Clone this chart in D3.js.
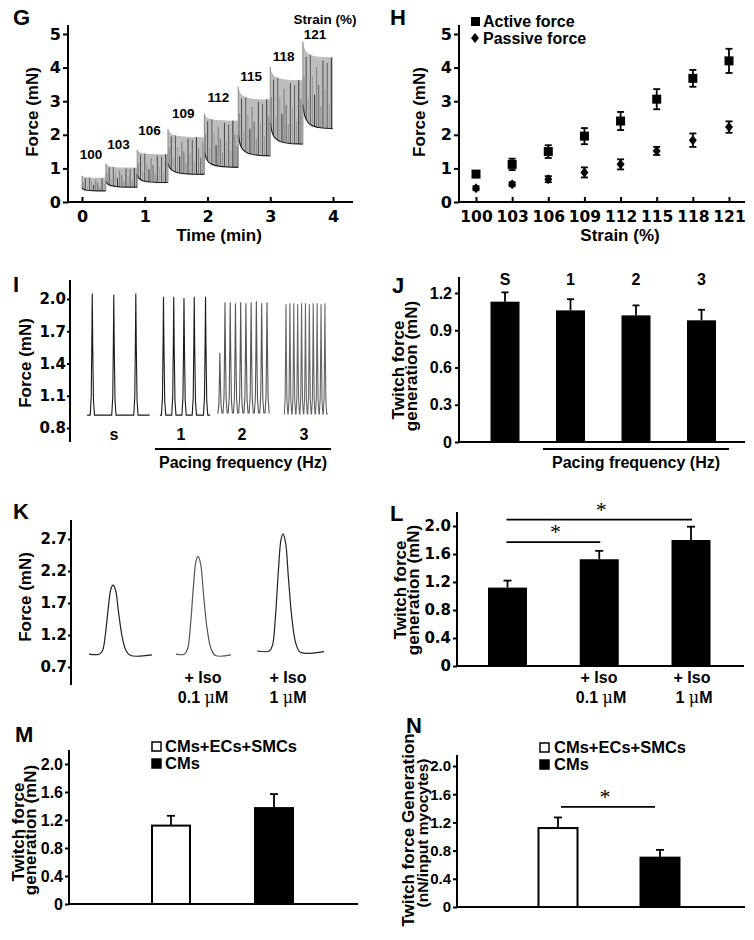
<!DOCTYPE html>
<html>
<head>
<meta charset="utf-8">
<script src="https://cdn.jsdelivr.net/npm/d3@7"></script>
<style>
  body { margin: 0; background: #fff; }
  text { font-family: "Liberation Sans", Arial, sans-serif; font-weight: bold; fill: #000; }
</style>
</head>
<body>
<svg width="754" height="940"></svg>
<script>
// ---- panel G : force trace at increasing strain ----
const strainCats = ["100", "103", "106", "109", "112", "115", "118", "121"];
const gSegStart = [0, 0.38, 0.88, 1.37, 1.95, 2.49, 3.0, 3.52];
const gSegEnd = [0.38, 0.88, 1.37, 1.95, 2.49, 3.0, 3.52, 4.0];
const gPeakStart = [0.78, 1.15, 1.55, 2.17, 2.63, 3.43, 4.02, 4.78];
const gPeakPlateau = [0.72, 1.02, 1.42, 1.93, 2.42, 3.05, 3.62, 4.3];
const gPassiveStart = [0.42, 0.62, 0.8, 1.15, 1.5, 2.0, 2.35, 2.9];
const gPassiveEnd = [0.33, 0.44, 0.58, 0.82, 1.03, 1.37, 1.72, 2.18];
// shape of the stress relaxation inside one step (fraction left vs. fraction of step)
const gDecayPos = [0, 0.03, 0.07, 0.12, 0.2, 0.3, 0.45, 0.65, 1];
const gDecay = [1, 0.72, 0.5, 0.35, 0.22, 0.13, 0.07, 0.03, 0];
const gTicksX = [0, 1, 2, 3, 4];
const gTicksY = [0, 1, 2, 3, 4, 5];

// ---- panel H : active / passive force vs strain ----
const hActive = [0.83, 1.12, 1.5, 1.96, 2.41, 3.06, 3.68, 4.2];
const hActiveErr = [0.08, 0.17, 0.19, 0.24, 0.27, 0.3, 0.25, 0.36];
const hPassive = [0.41, 0.53, 0.68, 0.88, 1.12, 1.52, 1.84, 2.23];
const hPassiveErr = [0.06, 0.06, 0.09, 0.15, 0.15, 0.12, 0.2, 0.17];

// ---- panel I : twitch traces at pacing frequencies ----
const iGroups = ["s", "1", "2", "3"];
const iStart = [0.5, 7.6, 13.2, 19.7];
const iEnd = [6.6, 12.5, 18.3, 24.0];
const iBase = [0.92, 0.92, 0.94, 0.93];
const iPeakT = [
  [1.0, 3.1, 5.25],
  [7.95, 8.95, 9.95, 10.95, 12.05],
  [13.45, 13.95, 14.46, 14.97, 15.48, 15.99, 16.5, 17.01, 17.53, 18.05],
  [19.9, 20.28, 20.66, 21.04, 21.42, 21.8, 22.18, 22.56, 22.94, 23.32, 23.7]
];
const iPeakF = [
  [2.05, 2.04, 2.05],
  [2.02, 2.02, 2.01, 2.02, 2.02],
  [1.5, 1.97, 1.97, 1.96, 1.97, 1.96, 1.97, 1.98, 1.96, 1.97],
  [1.95, 1.96, 1.96, 1.95, 1.96, 1.96, 1.95, 1.96, 1.96, 1.95, 1.96]
];
const iTwitchDt = [-0.2, -0.1, -0.04, 0, 0.05, 0.12, 0.22];
const iTwitchF = [0, 0.15, 0.6, 1, 0.55, 0.12, 0];
const iTicks = [0.8, 1.1, 1.4, 1.7, 2.0];

// ---- panel J : twitch force vs pacing ----
const jCats = ["S", "1", "2", "3"];
const jMean = [1.13, 1.06, 1.02, 0.98];
const jErr = [0.075, 0.09, 0.08, 0.085];
const jTicks = [0, 0.3, 0.6, 0.9, 1.2];

// ---- panel K : single twitches with isoproterenol ----
const kStart = [0.36, 3.84, 7.08];
const kPeakT = [1.32, 4.72, 8.12];
const kEnd = [2.88, 6.04, 9.76];
const kBase = [0.9, 0.9, 0.95];
const kBaseAfter = [0.88, 0.88, 0.93];
const kPeak = [1.98, 2.43, 2.78];
const kTwitchDt = [-0.55, -0.42, -0.3, -0.18, -0.08, 0, 0.1, 0.22, 0.36, 0.52, 0.7];
const kTwitchF = [0, 0.05, 0.3, 0.7, 0.95, 1, 0.93, 0.62, 0.28, 0.07, 0];
const kTicks = [0.7, 1.2, 1.7, 2.2, 2.7];
const isoLine1 = ["", "+ Iso", "+ Iso"];
const isoDose = ["", "0.1", "1"];

// ---- panel L ----
const lMean = [1.12, 1.525, 1.8];
const lErr = [0.1, 0.12, 0.19];
const lSig = [[0, 1, 1.77], [0, 2, 2.09]];
const barTicks = [0, 0.4, 0.8, 1.2, 1.6, 2.0];

// ---- panels M and N ----
const mnSeries = ["CMs+ECs+SMCs", "CMs"];
const mnFill = ["#fff", "#000"];
const mMean = [1.12, 1.37];
const mErr = [0.14, 0.2];
const nMean = [1.12, 0.70];
const nErr = [0.15, 0.11];
const nSig = [0, 1, 1.42];

const svg = d3.select("svg");

function addText(x, y, s, o = {}) {
  const t = svg.append("text").attr("x", x).attr("y", y).text(s)
    .style("font-size", (o.fs || 16) + "px")
    .attr("text-anchor", o.anchor || "start");
  if (o.rot) t.attr("transform", `rotate(-90,${x},${y})`);
  if (o.font) t.style("font-family", o.font);
  if (o.weight) t.style("font-weight", o.weight);
  return t;
}

function hLine(x1, x2, y, w = 2) {
  svg.append("line").attr("x1", x1).attr("x2", x2).attr("y1", y).attr("y2", y)
    .attr("stroke", "#000").attr("stroke-width", w);
}
function vLine(x, y1, y2, w = 2) {
  svg.append("line").attr("x1", x).attr("x2", x).attr("y1", y1).attr("y2", y2)
    .attr("stroke", "#000").attr("stroke-width", w);
}

function yAxis(y, x, top, bottom, ticks, o) {
  const ax = d3.axisLeft(y).tickValues(ticks).tickSize(o.size).tickPadding(o.pad)
    .tickFormat(o.fmt || (d => d));
  const a = svg.append("g").attr("transform", `translate(${x},0)`).call(ax);
  a.select(".domain").remove();
  a.selectAll(".tick line").attr("stroke", "#000").attr("stroke-width", 2);
  a.selectAll(".tick text").attr("fill", "#000")
    .style("font-family", o.font || "Liberation Sans")
    .style("font-size", o.fs + "px").style("font-weight", "bold");
  vLine(x, top, bottom);
}

function xAxis(x, y0, ticks, o) {
  const ax = d3.axisBottom(x).tickValues(ticks).tickSize(-5).tickPadding(o.pad)
    .tickFormat(d => d);
  const a = svg.append("g").attr("transform", `translate(0,${y0})`).call(ax);
  a.select(".domain").remove();
  a.selectAll(".tick line").attr("stroke", "#000").attr("stroke-width", 2);
  a.selectAll(".tick text").attr("fill", "#000")
    .style("font-family", "DejaVu Sans").style("font-size", o.fs + "px").style("font-weight", "bold");
}

const fmt1 = d => d === 0 ? "0" : d.toFixed(1);

// panel letters
[["G", 13, 25], ["H", 390, 25], ["I", 13, 292], ["J", 392, 293],
 ["K", 13, 519], ["L", 390, 521], ["M", 15, 742], ["N", 406, 733]]
  .forEach(([l, x, y]) => addText(x, y, l, { fs: 22 }));

// ================= G =================
const xG = d3.scaleLinear().domain([0, 4]).range([82, 333]);
const yG = d3.scaleLinear().domain([0, 5]).range([202, 34]);
const gLineShade = ["#8a8a8a", "#4a4a4a", "#a0a0a0", "#5c5c5c", "#999", "#333", "#7a7a7a", "#666"];
const gLineFrac = [0.55, 0.92, 0.35, 1, 0.7, 0.45, 0.85, 0.6, 0.3, 0.95];

function decayAt(f) {
  const i = Math.max(0, Math.min(gDecayPos.length - 2, d3.bisectRight(gDecayPos, f) - 1));
  const u = (f - gDecayPos[i]) / (gDecayPos[i + 1] - gDecayPos[i]);
  return gDecay[i] + u * (gDecay[i + 1] - gDecay[i]);
}

strainCats.forEach((lab, i) => {
  const s = gSegStart[i], e = gSegEnd[i];
  const env = f => gPeakPlateau[i] + (gPeakStart[i] - gPeakPlateau[i]) * decayAt(f);
  const pas = f => gPassiveEnd[i] + (gPassiveStart[i] - gPassiveEnd[i]) * decayAt(f);
  const area = d3.area()
    .x(f => xG(s + f * (e - s)))
    .y0(f => yG(pas(f)))
    .y1(f => yG(env(f)));
  svg.append("path").attr("d", area(gDecayPos)).attr("fill", "#bdbdbd");
  let k = 0;
  for (let px = xG(s) + 1.2; px < xG(e) - 0.5; px += 2.1, k++) {
    const f = (xG.invert(px) - s) / (e - s);
    const lo = pas(f), hi = env(f);
    const v = lo + gLineFrac[k % gLineFrac.length] * (hi - lo);
    svg.append("line").attr("x1", px).attr("x2", px)
      .attr("y1", yG(lo)).attr("y2", yG(v))
      .attr("stroke", gLineShade[k % gLineShade.length]).attr("stroke-width", 1);
  }
  const pasLine = d3.line().x(f => xG(s + f * (e - s))).y(f => yG(pas(f)));
  svg.append("path").attr("d", pasLine(gDecayPos)).attr("fill", "none")
    .attr("stroke", "#222").attr("stroke-width", 1.2);
  const prev = i > 0 ? gPassiveEnd[i - 1] : gPassiveStart[i];
  svg.append("line").attr("x1", xG(s)).attr("x2", xG(s))
    .attr("y1", yG(Math.min(prev, gPassiveStart[i]))).attr("y2", yG(gPeakStart[i]))
    .attr("stroke", "#888").attr("stroke-width", 1);
  addText(xG((s + e) / 2) - 3, yG(gPeakPlateau[i]) - 19, lab, { fs: 13.5, anchor: "middle" });
});
addText(325, 24, "Strain (%)", { fs: 13.5, anchor: "middle" });

yAxis(yG, 68, 25, 202, gTicksY, { size: 5, pad: 2, fs: 16, font: "DejaVu Sans" });
hLine(67, 353, 202);
xAxis(xG, 202, gTicksX, { pad: 9, fs: 16 });
addText(38, 112, "Force (mN)", { fs: 17, anchor: "middle", rot: true });
addText(219, 241, "Time (min)", { fs: 17, anchor: "middle" });

// ================= H =================
const xH = d3.scalePoint().domain(strainCats).range([476, 729]);
const yH = d3.scaleLinear().domain([0, 5]).range([202, 34]);
yAxis(yH, 459, 25, 202, gTicksY, { size: 5, pad: 2, fs: 16, font: "DejaVu Sans" });
hLine(458, 745, 202);
xAxis(xH, 202, strainCats, { pad: 9, fs: 15.5 });
addText(425, 112, "Force (mN)", { fs: 17, anchor: "middle", rot: true });
addText(620, 241, "Strain (%)", { fs: 17, anchor: "middle" });

function errBar(x, y, m, e, cap, both) {
  vLine(x, y(m + e), both ? y(m - e) : y(m), 1.8);
  hLine(x - cap, x + cap, y(m + e), 1.8);
  if (both) hLine(x - cap, x + cap, y(m - e), 1.8);
}
const diamond = (cx, cy, w, h) => `M${cx},${cy - h}L${cx + w},${cy}L${cx},${cy + h}L${cx - w},${cy}Z`;

strainCats.forEach((c, i) => {
  errBar(xH(c), yH, hActive[i], hActiveErr[i], 3.5, true);
  errBar(xH(c), yH, hPassive[i], hPassiveErr[i], 3.5, true);
  svg.append("rect").attr("x", xH(c) - 4.5).attr("y", yH(hActive[i]) - 4.5)
    .attr("width", 9).attr("height", 9).attr("fill", "#000");
  svg.append("path").attr("d", diamond(xH(c), yH(hPassive[i]), 4, 5)).attr("fill", "#000");
});
svg.append("rect").attr("x", 471).attr("y", 17).attr("width", 9).attr("height", 9).attr("fill", "#000");
addText(483, 26.5, "Active force", { fs: 16 });
svg.append("path").attr("d", diamond(475, 38, 4, 5)).attr("fill", "#000");
addText(483, 43.5, "Passive force", { fs: 16 });

// ================= I =================
const tI = d3.scaleLinear().domain([0, 24]).range([82, 328]);
const yI = d3.scaleLinear().domain([0.8, 2.0]).range([428, 299]);
const iColor = ["#1a1a1a", "#1a1a1a", "#555", "#666"];
const iWidth = [1, 1, 0.95, 0.8];
const iLabelX = [114, 181, 242, 304];
const line = d3.line().x(d => d[0]).y(d => d[1]);

iGroups.forEach((g, gi) => {
  const b = iBase[gi];
  const pts = [[tI(iStart[gi]), yI(b)]];
  iPeakT[gi].forEach((pt, j) => {
    iTwitchDt.forEach((dt, q) => {
      const t = pt + dt * iWidth[gi];
      if (t > iStart[gi] && t < iEnd[gi])
        pts.push([tI(t), yI(b + iTwitchF[q] * (iPeakF[gi][j] - b))]);
    });
  });
  pts.push([tI(iEnd[gi]), yI(b)]);
  svg.append("path").attr("d", line(pts)).attr("fill", "none")
    .attr("stroke", iColor[gi]).attr("stroke-width", 1.1);
  addText(iLabelX[gi], 440, g, { fs: 16, anchor: "middle" });
});
yAxis(yI, 70, 280, 442, iTicks, { size: 3, pad: 1, fs: 15, font: "DejaVu Sans", fmt: d => d.toFixed(1) });
addText(31, 363, "Force (mN)", { fs: 17, anchor: "middle", rot: true });
hLine(155, 331, 449);
addText(243, 468, "Pacing frequency (Hz)", { fs: 16, anchor: "middle" });

// ================= J =================
const xJ = d3.scalePoint().domain(jCats).range([505, 701.5]);
const yJ = d3.scaleLinear().domain([0, 1.2]).range([442, 293]);
jCats.forEach((c, i) => {
  errBar(xJ(c), yJ, jMean[i], jErr[i], 3.5, false);
  svg.append("rect").attr("x", xJ(c) - 14.5).attr("y", yJ(jMean[i]))
    .attr("width", 29).attr("height", yJ(0) - yJ(jMean[i])).attr("fill", "#000");
  addText(xJ(c), 285, c, { fs: 16, anchor: "middle" });
});
yAxis(yJ, 459, 277, 442, jTicks, { size: 4, pad: 3, fs: 16, fmt: fmt1 });
hLine(458, 745, 442);
addText(404, 370, "Twitch force", { fs: 17, anchor: "middle", rot: true });
addText(417, 366, "generation (mN)", { fs: 17, anchor: "middle", rot: true });
hLine(543, 729, 449);
addText(636, 468, "Pacing frequency (Hz)", { fs: 16, anchor: "middle" });

// ================= K =================
const tK = d3.scaleLinear().domain([0, 10]).range([80, 330]);
const yK = d3.scaleLinear().domain([0.7, 2.7]).range([667, 539]);
const kLabelX = [113, 203, 288];
kPeakT.forEach((pt, i) => {
  const pts = [[tK(kStart[i]), yK(kBase[i])]];
  kTwitchDt.forEach((dt, q) => {
    const b = dt <= 0 ? kBase[i] : kBaseAfter[i];
    pts.push([tK(pt + dt), yK(b + kTwitchF[q] * (kPeak[i] - b))]);
  });
  pts.push([tK(kEnd[i]), yK(kBaseAfter[i] + 0.01)]);
  svg.append("path").attr("d", d3.line().curve(d3.curveCatmullRom)(pts)).attr("fill", "none")
    .attr("stroke", i === 1 ? "#555" : "#222").attr("stroke-width", 1.2);
  if (isoLine1[i]) {
    addText(kLabelX[i], 683, isoLine1[i], { fs: 16, anchor: "middle" });
    const t = addText(kLabelX[i], 703, isoDose[i] + " ", { fs: 16, anchor: "middle" });
    t.append("tspan").text("μ").style("font-family", "DejaVu Serif").style("font-weight", "normal");
    t.append("tspan").text("M");
  }
});
yAxis(yK, 71, 520, 685, kTicks, { size: 3, pad: 1, fs: 15, font: "DejaVu Sans", fmt: d => d.toFixed(1) });
addText(31, 597, "Force (mN)", { fs: 17, anchor: "middle", rot: true });

// ================= L =================
const xL = d3.scalePoint().domain([0, 1, 2]).range([507.5, 691]);
const yL = d3.scaleLinear().domain([0, 2.0]).range([666, 526]);
const lLabelX = [0, 599, 692];
lMean.forEach((m, i) => {
  errBar(xL(i), yL, m, lErr[i], 4, false);
  svg.append("rect").attr("x", xL(i) - 19.5).attr("y", yL(m))
    .attr("width", 39).attr("height", yL(0) - yL(m)).attr("fill", "#000");
  if (isoLine1[i]) {
    addText(lLabelX[i], 683, isoLine1[i], { fs: 16, anchor: "middle" });
    const t = addText(lLabelX[i] + 2, 703, isoDose[i] + " ", { fs: 16, anchor: "middle" });
    t.append("tspan").text("μ").style("font-family", "DejaVu Serif").style("font-weight", "normal");
    t.append("tspan").text("M");
  }
});
lSig.forEach(([a, b, lv]) => {
  hLine(xL(a) - 1, xL(b) + 1, yL(lv), 1.8);
  addText((xL(a) + xL(b)) / 2 + 2, yL(lv) - 3, "*",
    { fs: 22, anchor: "middle", font: "Liberation Serif", weight: "normal" });
});
yAxis(yL, 457, 512, 666, barTicks, { size: 4, pad: 2, fs: 15, font: "DejaVu Sans", fmt: fmt1 });
hLine(456, 744, 666);
addText(406, 590, "Twitch force", { fs: 17, anchor: "middle", rot: true });
addText(419, 590, "generation (mN)", { fs: 17, anchor: "middle", rot: true });

// ================= M =================
const xM = d3.scalePoint().domain(mnSeries).range([171, 274]);
const yM = d3.scaleLinear().domain([0, 2.0]).range([904, 764]);
mnSeries.forEach((s, i) => {
  errBar(xM(s), yM, mMean[i], mErr[i], 4, false);
  svg.append("rect").attr("x", xM(s) - 19).attr("y", yM(mMean[i]))
    .attr("width", 38).attr("height", yM(0) - yM(mMean[i]))
    .attr("fill", mnFill[i]).attr("stroke", "#000").attr("stroke-width", 2);
  svg.append("rect").attr("x", 152).attr("y", 742 + i * 17).attr("width", 9).attr("height", 9)
    .attr("fill", mnFill[i]).attr("stroke", "#000").attr("stroke-width", 1.5);
  addText(165, 752 + i * 17, s, { fs: 16.5 });
});
yAxis(yM, 69, 750, 904, barTicks, { size: 4, pad: 2, fs: 16, fmt: fmt1 });
hLine(68, 358, 904);
addText(24, 832, "Twitch force", { fs: 17, anchor: "middle", rot: true });
addText(36, 830, "generation (mN)", { fs: 17, anchor: "middle", rot: true });

// ================= N =================
const xN = d3.scalePoint().domain(mnSeries).range([558, 660]);
const yN = d3.scaleLinear().domain([0, 2.0]).range([907, 766]);
mnSeries.forEach((s, i) => {
  errBar(xN(s), yN, nMean[i], nErr[i], 4, false);
  svg.append("rect").attr("x", xN(s) - 19.5).attr("y", yN(nMean[i]))
    .attr("width", 39).attr("height", yN(0) - yN(nMean[i]))
    .attr("fill", mnFill[i]).attr("stroke", "#000").attr("stroke-width", 2);
  svg.append("rect").attr("x", 540).attr("y", 743 + i * 17).attr("width", 9).attr("height", 9)
    .attr("fill", mnFill[i]).attr("stroke", "#000").attr("stroke-width", 1.5);
  addText(554, 753 + i * 17, s, { fs: 16.5 });
});
hLine(xN(mnSeries[nSig[0]]) + 3, xN(mnSeries[nSig[1]]) - 5, yN(nSig[2]), 1.8);
addText(605, yN(nSig[2]) - 3, "*", { fs: 22, anchor: "middle", font: "Liberation Serif", weight: "normal" });
yAxis(yN, 457, 755, 907, barTicks, { size: 4, pad: 2, fs: 15, fmt: fmt1 });
hLine(456, 745, 907);
addText(414, 830, "Twitch force Generation", { fs: 17, anchor: "middle", rot: true });
addText(428, 833, "(nN/input myocytes)", { fs: 15.5, anchor: "middle", rot: true });
</script>
</body>
</html>
